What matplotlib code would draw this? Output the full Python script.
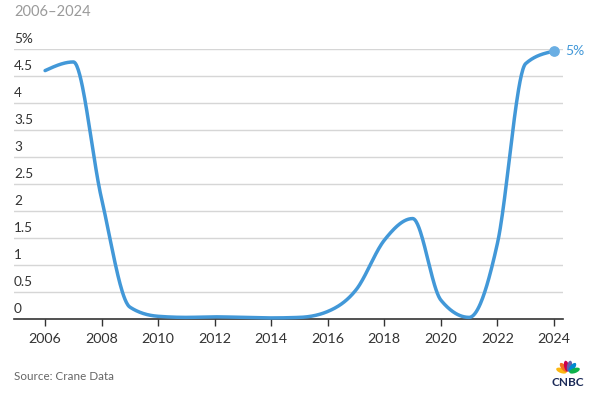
import numpy as np
import matplotlib
matplotlib.use('Agg')
import matplotlib.pyplot as plt
from matplotlib.patches import Ellipse

plt.rcParams['font.family'] = ['Lato', 'DejaVu Sans']

years = [2006, 2007, 2008, 2009, 2010, 2011, 2012, 2013, 2014, 2015,
         2016, 2017, 2018, 2019, 2020, 2021, 2022, 2023, 2024]
yields = [4.60, 4.76, 2.22, 0.22, 0.05, 0.03, 0.04, 0.03, 0.02, 0.03,
          0.14, 0.54, 1.46, 1.86, 0.35, 0.03, 1.40, 4.73, 4.96]
y_ticks = [0, 0.5, 1, 1.5, 2, 2.5, 3, 3.5, 4, 4.5, 5]
y_labels = ['0', '0.5', '1', '1.5', '2', '2.5', '3', '3.5', '4', '4.5', '5%']
x_ticks = [2006, 2008, 2010, 2012, 2014, 2016, 2018, 2020, 2022, 2024]

BLUE = '#4298d8'


def monotone_curve(x, y, n=40):
    # d3-style curveMonotoneX
    x = np.asarray(x, float)
    y = np.asarray(y, float)
    h = np.diff(x)
    s = np.diff(y) / h
    m = np.zeros_like(y)
    for i in range(1, len(x) - 1):
        s0, s1 = s[i - 1], s[i]
        p = (s0 * h[i] + s1 * h[i - 1]) / (h[i - 1] + h[i])
        m[i] = (np.sign(s0) + np.sign(s1)) * min(abs(s0), abs(s1), 0.5 * abs(p))
    m[0] = (3 * s[0] - m[1]) / 2
    m[-1] = (3 * s[-1] - m[-2]) / 2
    xs, ys = [], []
    for i in range(len(x) - 1):
        t = np.linspace(0, 1, n, endpoint=False)
        h00 = 2 * t**3 - 3 * t**2 + 1
        h10 = t**3 - 2 * t**2 + t
        h01 = -2 * t**3 + 3 * t**2
        h11 = t**3 - t**2
        xs.append(x[i] + t * h[i])
        ys.append(h00 * y[i] + h10 * h[i] * m[i] + h01 * y[i + 1] + h11 * h[i] * m[i + 1])
    xs.append([x[-1]])
    ys.append([y[-1]])
    return np.concatenate(xs), np.concatenate(ys)


fig = plt.figure(figsize=(5.99, 3.97), dpi=100)
ax = fig.add_axes([14 / 599, 1 - 319 / 397, (563 - 14) / 599, (319 - 49) / 397])

ax.set_xlim(2004.9, 2024.32)
ax.set_ylim(0, 5)

for v in y_ticks[1:]:
    ax.axhline(v, color='#d6d6d6', lw=1, zorder=1)

cx, cy = monotone_curve(years, yields)
ax.plot(cx, cy, color=BLUE, lw=2.5, solid_capstyle='round', zorder=3, clip_on=False)
ax.scatter([years[-1]], [yields[-1]], s=45, color='#6aaee3', zorder=4, clip_on=False)
ax.annotate('5%', (years[-1], yields[-1]), xytext=(8, 0), textcoords='offset points',
            va='center', ha='left', color=BLUE, fontsize=10, annotation_clip=False)

for v, lab in zip(y_ticks, y_labels):
    ax.annotate(lab, (0, v), xycoords=('axes fraction', 'data'), xytext=(0, 3),
                textcoords='offset points', ha='left', va='bottom',
                color='#333333', fontsize=9.8)

ax.set_yticks([])
ax.set_xticks(x_ticks)
ax.set_xticklabels([str(t) for t in x_ticks], fontsize=10.3, color='#333333')
ax.tick_params(axis='x', direction='out', length=5, width=1, color='#333333', pad=5)

for side in ['top', 'right', 'left']:
    ax.spines[side].set_visible(False)
ax.spines['bottom'].set_color('#333333')
ax.spines['bottom'].set_linewidth(1.2)

fig.text(14 / 599, 1 - 12 / 397, '2006\u20132024', fontsize=10.5, color='#9a9a9a',
         ha='left', va='center')
fig.text(14 / 599, 1 - 376 / 397, 'Source: Crane Data', fontsize=8.4, color='#666666',
         ha='left', va='center')

# CNBC peacock logo
lax = fig.add_axes([551 / 599, 1 - 388 / 397, 34 / 599, 28 / 397])
lax.set_xlim(0, 34)
lax.set_ylim(0, 28)
lax.axis('off')
feathers = ['#fcb711', '#f37021', '#cc004c', '#6460aa', '#0089d0', '#0db14b']
angles = [160, 128, 102, 78, 52, 20]
for col, ang in zip(feathers, angles):
    r = np.deg2rad(ang)
    lax.add_patch(Ellipse((17 + 7 * np.cos(r), 15 + 7 * np.sin(r)), 5, 11,
                          angle=ang - 90, color=col, lw=0))
lax.text(17, 5, 'CNBC', ha='center', va='center', fontsize=8.5, fontweight='bold',
         color='#1b2a58')

fig.savefig('out.png', dpi=100)
